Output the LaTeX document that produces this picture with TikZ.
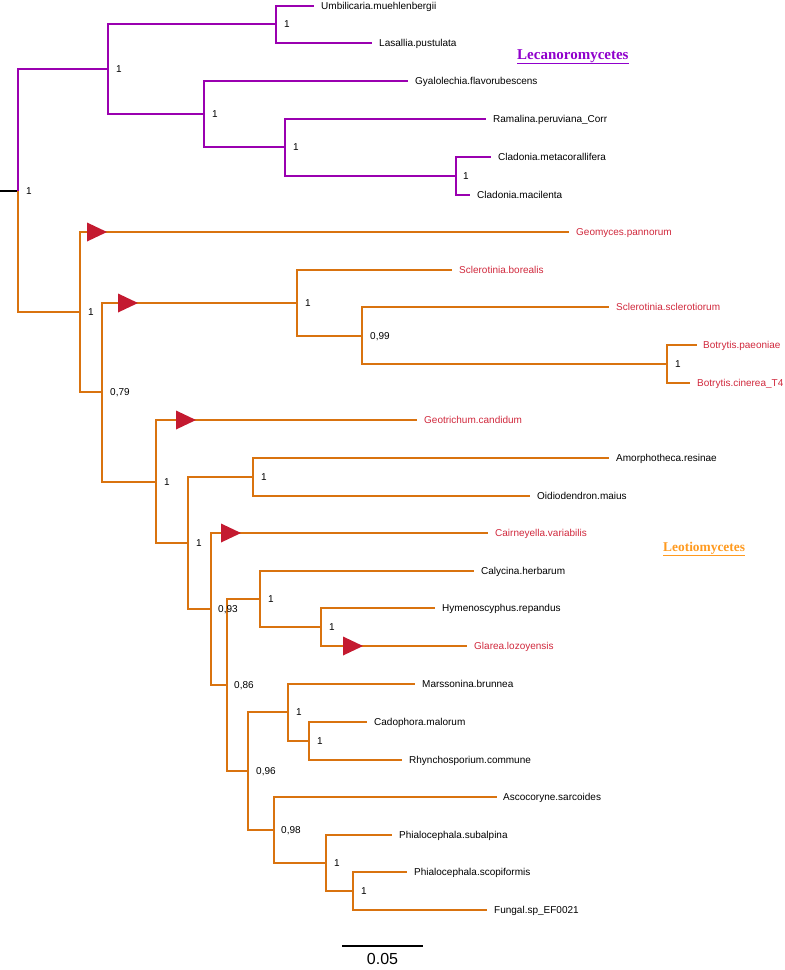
\documentclass[tikz,border=0pt]{standalone}
\usepackage{fontspec}
\setmainfont{Liberation Sans}
\newfontfamily\cladefont{Liberation Serif}
\usepackage{tikz}
\usetikzlibrary{positioning}
\definecolor{lecpurple}{HTML}{9A00B0}
\definecolor{leoorange}{HTML}{D9730F}
\definecolor{lectitle}{HTML}{9000CC}
\definecolor{leotitle}{HTML}{FF9A1F}
\definecolor{newred}{HTML}{D0283C}
\definecolor{markred}{HTML}{C41A30}

\begin{document}
\begin{tikzpicture}[x=1pt,y=-1pt]
          %% PHYLOGENIE
          \useasboundingbox (0,0) rectangle (785,970);

          \tikzstyle{lec}=[draw=lecpurple,line width=1.8pt]
          \tikzstyle{leo}=[draw=leoorange,line width=1.8pt]
          \tikzstyle{taxon}=[inner sep=0pt,font=\fontsize{10}{12}\selectfont,text height=7.2pt,text depth=0pt]
          \tikzstyle{newtaxon}=[taxon,text=newred]
          \tikzstyle{support}=[taxon]
          \tikzset{clade/.pic={\fill[markred] (0,-9.5) -- (20,0) -- (0,9.5) -- cycle;}}

          % racine
          \coordinate (stub) at (0,191);
          \coordinate (root) at (18,191);

          % noeuds Lecanoromycetes
          \coordinate (A) at (108,69);
          \coordinate (U1) at (276,24);
          \coordinate (B) at (204,114);
          \coordinate (C) at (285,147);
          \coordinate (D) at (456,176);

          % feuilles Lecanoromycetes
          \coordinate (tUmb) at (314,6);
          \coordinate (tLas) at (372,43);
          \coordinate (tGya) at (408,81);
          \coordinate (tRam) at (486,119);
          \coordinate (tCme) at (491,157);
          \coordinate (tCma) at (470,195);

          % noeuds Leotiomycetes
          \coordinate (E) at (80,312);
          \coordinate (F) at (102,392);
          \coordinate (G) at (297,303);
          \coordinate (H) at (362,336);
          \coordinate (I) at (667,364);
          \coordinate (J) at (156,482);
          \coordinate (K) at (188,543);
          \coordinate (L) at (253,477);
          \coordinate (M) at (211,609);
          \coordinate (N) at (227,685);
          \coordinate (O) at (260,599);
          \coordinate (P) at (321,627);
          \coordinate (Q) at (248,771);
          \coordinate (R) at (288,712);
          \coordinate (S) at (309,741);
          \coordinate (T) at (274,830);
          \coordinate (U) at (326,863);
          \coordinate (V) at (353,891);

          % feuilles Leotiomycetes
          \coordinate (tGeo) at (569,232);
          \coordinate (tSbo) at (452,270);
          \coordinate (tSsc) at (609,307);
          \coordinate (tBpa) at (697,345);
          \coordinate (tBci) at (690,383);
          \coordinate (tGca) at (417,420);
          \coordinate (tAmo) at (609,458);
          \coordinate (tOid) at (530,496);
          \coordinate (tCai) at (488,533);
          \coordinate (tCal) at (474,571);
          \coordinate (tHym) at (435,608);
          \coordinate (tGla) at (467,646);
          \coordinate (tMar) at (415,684);
          \coordinate (tCad) at (367,722);
          \coordinate (tRhy) at (402,760);
          \coordinate (tAsc) at (497,797);
          \coordinate (tPsu) at (392,835);
          \coordinate (tPsc) at (407,872);
          \coordinate (tFun) at (487,910);

          % branches
          \draw[line width=1.8pt] (stub) -- (root);
          \draw[lec] (root) |- (A);
          \draw[lec] (A) |- (U1);
          \draw[lec] (U1) |- (tUmb);
          \draw[lec] (U1) |- (tLas);
          \draw[lec] (A) |- (B);
          \draw[lec] (B) |- (tGya);
          \draw[lec] (B) |- (C);
          \draw[lec] (C) |- (tRam);
          \draw[lec] (C) |- (D);
          \draw[lec] (D) |- (tCme);
          \draw[lec] (D) |- (tCma);

          \draw[leo] (root) |- (E);
          \draw[leo] (E) |- (tGeo);
          \draw[leo] (E) |- (F);
          \draw[leo] (F) |- (G);
          \draw[leo] (G) |- (tSbo);
          \draw[leo] (G) |- (H);
          \draw[leo] (H) |- (tSsc);
          \draw[leo] (H) |- (I);
          \draw[leo] (I) |- (tBpa);
          \draw[leo] (I) |- (tBci);
          \draw[leo] (F) |- (J);
          \draw[leo] (J) |- (tGca);
          \draw[leo] (J) |- (K);
          \draw[leo] (K) |- (L);
          \draw[leo] (L) |- (tAmo);
          \draw[leo] (L) |- (tOid);
          \draw[leo] (K) |- (M);
          \draw[leo] (M) |- (tCai);
          \draw[leo] (M) |- (N);
          \draw[leo] (N) |- (O);
          \draw[leo] (O) |- (tCal);
          \draw[leo] (O) |- (P);
          \draw[leo] (P) |- (tHym);
          \draw[leo] (P) |- (tGla);
          \draw[leo] (N) |- (Q);
          \draw[leo] (Q) |- (R);
          \draw[leo] (R) |- (tMar);
          \draw[leo] (R) |- (S);
          \draw[leo] (S) |- (tCad);
          \draw[leo] (S) |- (tRhy);
          \draw[leo] (Q) |- (T);
          \draw[leo] (T) |- (tAsc);
          \draw[leo] (T) |- (U);
          \draw[leo] (U) |- (tPsu);
          \draw[leo] (U) |- (V);
          \draw[leo] (V) |- (tPsc);
          \draw[leo] (V) |- (tFun);

          % triangles des nouveaux genomes
          \pic at (87,232) {clade};
          \pic at (118,303) {clade};
          \pic at (176,420) {clade};
          \pic at (221,533) {clade};
          \pic at (343,646) {clade};

          % supports
          \node[support,right=8pt of root] (sRoot) {1};
          \node[support,right=8pt of A] (sA) {1};
          \node[support,right=8pt of U1] (sU1) {1};
          \node[support,right=8pt of B] (sB) {1};
          \node[support,right=8pt of C] (sC) {1};
          \node[support,right=7pt of D] (sD) {1};
          \node[support,right=8pt of E] (sE) {1};
          \node[support,right=8pt of F] (sF) {0,79};
          \node[support,right=8pt of G] (sG) {1};
          \node[support,right=8pt of H] (sH) {0,99};
          \node[support,right=8pt of I] (sI) {1};
          \node[support,right=8pt of J] (sJ) {1};
          \node[support,right=8pt of K] (sK) {1};
          \node[support,right=8pt of L] (sL) {1};
          \node[support,right=7pt of M] (sM) {0,93};
          \node[support,right=7pt of N] (sN) {0,86};
          \node[support,right=8pt of O] (sO) {1};
          \node[support,right=8pt of P] (sP) {1};
          \node[support,right=8pt of Q] (sQ) {0,96};
          \node[support,right=8pt of R] (sR) {1};
          \node[support,right=8pt of S] (sS) {1};
          \node[support,right=7pt of T] (sT) {0,98};
          \node[support,right=8pt of U] (sU) {1};
          \node[support,right=8pt of V] (sV) {1};

          % noms des taxons
          \node[taxon,right=7pt of tUmb] (Umb) {Umbilicaria.muehlenbergii};
          \node[taxon,right=7pt of tLas] (Las) {Lasallia.pustulata};
          \node[taxon,right=7pt of tGya] (Gya) {Gyalolechia.flavorubescens};
          \node[taxon,right=7pt of tRam] (Ram) {Ramalina.peruviana\_Corr};
          \node[taxon,right=7pt of tCme] (Cme) {Cladonia.metacorallifera};
          \node[taxon,right=7pt of tCma] (Cma) {Cladonia.macilenta};

          \node[newtaxon,right=7pt of tGeo] (Geo) {Geomyces.pannorum};
          \node[newtaxon,right=7pt of tSbo] (Sbo) {Sclerotinia.borealis};
          \node[newtaxon,right=7pt of tSsc] (Ssc) {Sclerotinia.sclerotiorum};
          \node[newtaxon,right=6pt of tBpa] (Bpa) {Botrytis.paeoniae};
          \node[newtaxon,right=7pt of tBci] (Bci) {Botrytis.cinerea\_T4};
          \node[newtaxon,right=7pt of tGca] (Gca) {Geotrichum.candidum};
          \node[taxon,right=7pt of tAmo] (Amo) {Amorphotheca.resinae};
          \node[taxon,right=7pt of tOid] (Oid) {Oidiodendron.maius};
          \node[newtaxon,right=7pt of tCai] (Cai) {Cairneyella.variabilis};
          \node[taxon,right=7pt of tCal] (Cal) {Calycina.herbarum};
          \node[taxon,right=7pt of tHym] (Hym) {Hymenoscyphus.repandus};
          \node[newtaxon,right=7pt of tGla] (Gla) {Glarea.lozoyensis};
          \node[taxon,right=7pt of tMar] (Mar) {Marssonina.brunnea};
          \node[taxon,right=7pt of tCad] (Cad) {Cadophora.malorum};
          \node[taxon,right=7pt of tRhy] (Rhy) {Rhynchosporium.commune};
          \node[taxon,right=6pt of tAsc] (Asc) {Ascocoryne.sarcoides};
          \node[taxon,right=7pt of tPsu] (Psu) {Phialocephala.subalpina};
          \node[taxon,right=7pt of tPsc] (Psc) {Phialocephala.scopiformis};
          \node[taxon,right=7pt of tFun] (Fun) {Fungal.sp\_EF0021};

          % classes
          \node[anchor=base west,inner sep=0pt,text=lectitle,font=\cladefont\bfseries\fontsize{15}{18}\selectfont] (Lecano) at (517,59) {\underline{Lecanoromycetes}};
          \node[anchor=base west,inner sep=0pt,text=leotitle,font=\cladefont\bfseries\fontsize{13.4}{16}\selectfont] (Leotio) at (663,551) {\underline{Leotiomycetes}};

          % echelle
          \coordinate (bar1) at (342,946);
          \coordinate (bar2) at (423,946);
          \draw[line width=1.8pt] (bar1) -- (bar2);
          \node[inner sep=0pt,font=\fontsize{16}{19}\selectfont] (scale) at (382.5,958.5) {0.05};
\end{tikzpicture}
\end{document}
